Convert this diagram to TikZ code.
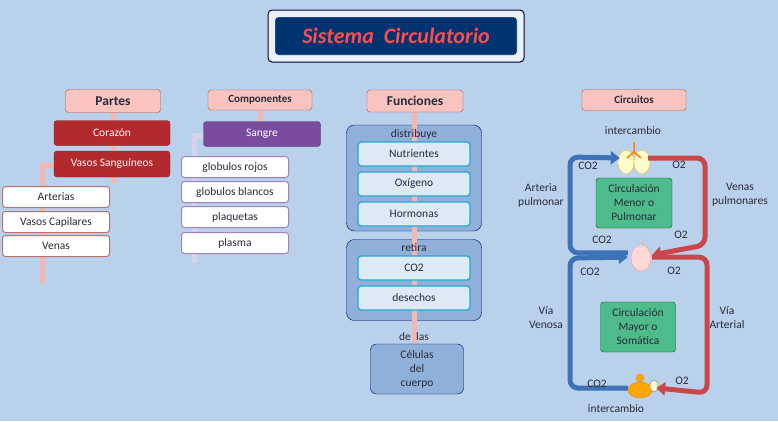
\documentclass[tikz,border=0pt]{standalone}
\usepackage{fontspec}
\setmainfont{Carlito}
\usetikzlibrary{arrows.meta}
\definecolor{bg}{HTML}{B9D1EA}
\definecolor{hdr}{HTML}{F9C3C0}
\definecolor{hdrb}{HTML}{A0524E}
\definecolor{dred}{HTML}{B22A2E}
\definecolor{purp}{HTML}{7A4C9E}
\definecolor{pinkbar}{HTML}{F3B6B0}
\definecolor{lav}{HTML}{D9D2EC}
\definecolor{grp}{HTML}{8FB0D9}
\definecolor{itm}{HTML}{DDEAF6}
\definecolor{cyanb}{HTML}{29A5D8}
\definecolor{grn}{HTML}{4DBB8B}
\definecolor{bluearr}{HTML}{3E72B8}
\definecolor{redarr}{HTML}{C9474A}
\definecolor{txt}{HTML}{2B2B3A}
\tikzset{
 base/.style={rounded corners=3pt, inner sep=0pt, align=center, font=\fontsize{11.5}{13}\selectfont, text=txt},
 hdrbox/.style={base, draw=hdrb, fill=hdr, font=\fontsize{13.5}{14}\selectfont\bfseries},
 redbox/.style={base, draw=dred!70!black, fill=dred, text=white!90!pink},
 purpbox/.style={base, draw=purp!70!black, fill=purp, text=white},
 whitebox/.style={base, draw=hdrb!80, fill=white, line width=1pt},
 lavbox/.style={base, draw=purp!70, fill=white, line width=1pt},
 grpbox/.style={rounded corners=8pt, draw=black!60!blue, fill=grp},
 itmbox/.style={base, draw=cyanb, fill=itm, line width=1.3pt},
 grnbox/.style={base, draw=green!40!black, fill=grn, font=\fontsize{11.5}{14}\selectfont},
 lbl/.style={base, font=\fontsize{11.5}{14}\selectfont},
 bar/.style={line width=5pt},
 barrow/.style={line width=5pt, rounded corners=8pt, -{Triangle[length=9pt,width=13pt]}},
}
\begin{document}
\begin{tikzpicture}[x=1pt,y=-1pt]
\fill[bg] (0,0) rectangle (778,421);
\useasboundingbox (0,0) rectangle (778,421);
% title
\node[draw=black!80!blue, line width=1pt, fill=white!70!bg, rounded corners=4pt, minimum width=256, minimum height=52] (title) at (396,36) {};
\node[fill=blue!30!black!80!cyan, draw=white, rounded corners=3pt, minimum width=242, minimum height=38, font=\fontsize{22}{24}\selectfont\bfseries\itshape, text=red!60!pink] (titletxt) at (396,36) {Sistema \ Circulatorio};
% coordinates for bars
\coordinate (pA) at (113,113); \coordinate (pB) at (113,183);
\coordinate (vL) at (54,165); \coordinate (vE) at (42,283);
\coordinate (cA) at (260,110); \coordinate (cB) at (260,125);
\coordinate (sL) at (204,135); \coordinate (sE) at (194,263);
\coordinate (fA) at (414,112); \coordinate (fB) at (414,344);
\draw[bar, pinkbar] (pA) -- (pB);
\draw[bar, pinkbar] (vL) -| (vE);
\draw[bar, pinkbar] (cA) -- (cB);
\draw[bar, lav] (sL) -| (sE);
% Partes
\node[hdrbox, minimum width=95, minimum height=23] (partes) at (113,101) {Partes};
\node[redbox, minimum width=116, minimum height=25] (corazon) at (112,133) {Corazón};
\node[redbox, minimum width=116, minimum height=26] (vasos) at (112,164) {Vasos Sanguíneos};
\node[whitebox, minimum width=107, minimum height=21] (arterias) at (56,197) {Arterias};
\node[whitebox, minimum width=107, minimum height=21] (capilares) at (56,222) {Vasos Capilares};
\node[whitebox, minimum width=107, minimum height=21] (venas) at (56,246) {Venas};
% Componentes
\node[hdrbox, font=\fontsize{11}{12}\selectfont\bfseries, minimum width=104, minimum height=20] (comp) at (260,100) {Componentes};
\node[purpbox, minimum width=117, minimum height=25] (sangre) at (262,134) {Sangre};
\node[lavbox, minimum width=107, minimum height=21] (rojos) at (235,167) {globulos rojos};
\node[lavbox, minimum width=107, minimum height=21] (blancos) at (235,192) {globulos blancos};
\node[lavbox, minimum width=107, minimum height=21] (plaq) at (235,217) {plaquetas};
\node[lavbox, minimum width=107, minimum height=21] (plasma) at (235,243) {plasma};
% Funciones
\node[grpbox, minimum width=135, minimum height=106] (g1) at (414,178) {};
\node[grpbox, minimum width=135, minimum height=81] (g2) at (414,280) {};
\draw[bar, pinkbar] (fA) -- (fB);
\node[hdrbox, minimum width=96, minimum height=22] (func) at (415,101) {Funciones};
\node[lbl] (distr) at (414,134) {distribuye};
\node[itmbox, minimum width=112, minimum height=24] (nutr) at (414,154) {Nutrientes};
\node[itmbox, minimum width=112, minimum height=24] (oxi) at (414,184) {Oxígeno};
\node[itmbox, minimum width=112, minimum height=24] (horm) at (414,214) {Hormonas};
\node[lbl] (retira) at (414,248) {retira};
\node[itmbox, minimum width=112, minimum height=24] (co2f) at (414,268) {CO2};
\node[itmbox, minimum width=112, minimum height=24] (desh) at (414,298) {desechos};
\node[lbl] (delas) at (414,337) {de\ \ las};
\node[base, rounded corners=6pt, draw=black!60!blue, fill=grp, minimum width=93, minimum height=50, font=\fontsize{11.5}{14}\selectfont] (cel) at (417,369) {Células\\del\\cuerpo};
% Circuitos
\node[hdrbox, font=\fontsize{11}{12}\selectfont\bfseries, minimum width=104, minimum height=21] (circ) at (634,100) {Circuitos};
\node[lbl] (int1) at (633,131) {intercambio};
\node[lbl] (int2) at (616,409) {intercambio};
% organs
\node[minimum width=28, minimum height=30] (lungs) at (634,158) {};
\fill[yellow!20!white, draw=yellow!50!brown] (626,162) ellipse (8pt and 12pt);
\fill[yellow!20!white, draw=yellow!50!brown] (642,162) ellipse (8pt and 12pt);
\draw[orange, line width=1.5pt] (634,142) -- (634,152) -- (627,158) (634,152) -- (641,158);
\node[minimum width=24, minimum height=30] (heart) at (640,255) {};
\fill[pink!60!white, draw=red!40] (641,258) ellipse (10pt and 13pt);
\draw[red!40] (636,244) -- (636,240) (642,245) -- (644,240);
\node[minimum width=28, minimum height=24] (stom) at (642,388) {};
\fill[orange!70!yellow, draw=orange!60!brown] (640,390) ellipse (12pt and 8pt);
\fill[orange!70!yellow, draw=orange!60!brown] (640,378) circle (4pt);
\fill[white!80!yellow, draw=gray] (654,386) ellipse (4pt and 6pt);
% loops
\coordinate (b1) at (570,157); \coordinate (b2) at (570,258);
\draw[barrow, bluearr] (heart.170) -| (b1) -- (lungs.west);
\draw[barrow, redarr] (lungs.east) -| (705,245) -- (heart.east);
\draw[barrow, bluearr] (stom.west) -| (b2) -- (heart.190);
\draw[barrow, redarr] (heart.-10) -| (707,393) -- (stom.east);
\node[grnbox, minimum width=76, minimum height=50] (menor) at (634,203) {Circulación\\Menor o\\Pulmonar};
\node[grnbox, minimum width=75, minimum height=50] (mayor) at (638,327) {Circulación\\Mayor o\\Somática};
\node[lbl] at (588,166) {CO2};
\node[lbl] at (679,165) {O2};
\node[lbl] at (541,195) {Arteria\\pulmonar};
\node[lbl] at (740,195) {Venas\\pulmonares};
\node[lbl] at (602,240) {CO2};
\node[lbl] at (681,235) {O2};
\node[lbl] at (590,272) {CO2};
\node[lbl] at (674,271) {O2};
\node[lbl] at (546,318) {Vía\\Venosa};
\node[lbl] at (727,318) {Vía\\Arterial};
\node[lbl] at (597,384) {CO2};
\node[lbl] at (682,381) {O2};
\end{tikzpicture}
\end{document}
